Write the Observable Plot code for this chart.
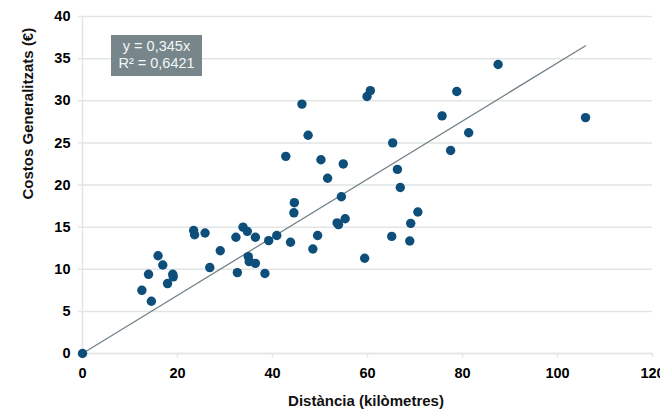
<!DOCTYPE html>
<html>
<head>
<meta charset="utf-8">
<script src="https://cdn.jsdelivr.net/npm/d3@7"></script>
<script src="https://cdn.jsdelivr.net/npm/@observablehq/plot@0.6"></script>
<style>
  html, body { margin: 0; padding: 0; background: #fff; }
  #wrap { position: relative; width: 660px; height: 409px; overflow: hidden; }
  #eq {
    position: absolute; left: 111px; top: 35px; width: 91px; height: 41px;
    background: #76868b; color: #f4f6f6;
    font: 14.5px "Liberation Sans", Arial, sans-serif;
    line-height: 17px; text-align: center; padding-top: 3px; box-sizing: border-box;
  }
</style>
</head>
<body>
<div id="wrap"></div>
<script>
const distancia = [0, 12.5, 13.9, 14.5, 15.9, 16.9, 17.9, 19.0, 19.1, 23.4,
  23.6, 25.8, 26.8, 29.0, 32.3, 32.6, 33.8, 34.7, 34.9, 35.1,
  36.4, 36.4, 38.4, 39.2, 40.9, 42.8, 43.8, 44.5, 44.6, 46.2,
  47.5, 48.5, 49.5, 50.2, 51.6, 53.6, 53.9, 54.5, 54.9, 55.3,
  59.4, 59.9, 60.6, 65.1, 65.3, 66.3, 66.9, 68.9, 69.1, 70.6,
  75.7, 77.5, 78.8, 81.3, 87.5, 105.9];
const costos = [0, 7.5, 9.4, 6.2, 11.6, 10.5, 8.3, 9.4, 9.1, 14.6,
  14.1, 14.3, 10.2, 12.2, 13.8, 9.6, 15.0, 14.5, 11.5, 10.9,
  13.8, 10.7, 9.5, 13.4, 14.0, 23.4, 13.2, 16.7, 17.9, 29.6,
  25.9, 12.4, 14.0, 23.0, 20.8, 15.5, 15.3, 18.6, 22.5, 16.0,
  11.3, 30.5, 31.2, 13.9, 25.0, 21.85, 19.7, 13.35, 15.45, 16.8,
  28.2, 24.1, 31.1, 26.2, 34.3, 28.0];
const slope = 0.345;
const r2 = "0,6421";
const xTicks = [0, 20, 40, 60, 80, 100, 120];
const yTicks = [0, 5, 10, 15, 20, 25, 30, 35, 40];
const xTitle = "Distància (kilòmetres)";
const yTitle = "Costos Generalitzats (€)";

const points = distancia.map((d, i) => ({x: d, y: costos[i]}));
const xmax = d3.max(distancia);
const trend = [{x: 0, y: 0}, {x: xmax, y: slope * xmax}];

const font = '"Liberation Sans", Arial, sans-serif';
const grid = "#e1e5e5";

const chart = Plot.plot({
  width: 660,
  height: 409,
  marginLeft: 82,
  marginRight: 8,
  marginTop: 16,
  marginBottom: 56,
  style: {fontFamily: font, fontSize: "14.5px", fontWeight: "bold", color: "#000", background: "#fff", overflow: "visible"},
  x: {domain: [0, 120], ticks: xTicks},
  y: {domain: [0, 40], ticks: yTicks},
  marks: [
    Plot.gridY(yTicks, {stroke: grid, strokeOpacity: 1, strokeWidth: 1.5}),
    Plot.axisY(yTicks, {tickSize: 4, tickPadding: 8, stroke: grid, strokeWidth: 1.5, label: null, fill: "#000", fontSize: 14.5}),
    Plot.axisX(xTicks, {tickSize: 4, tickPadding: 10, stroke: grid, strokeWidth: 1.5, label: null, fill: "#000", fontSize: 14.5}),
    Plot.ruleX([0], {stroke: grid, strokeWidth: 1.5}),
    Plot.ruleY([0], {stroke: grid, strokeWidth: 1.5}),
    Plot.line(trend, {x: "x", y: "y", stroke: "#738389", strokeWidth: 1.3}),
    Plot.dot(points, {x: "x", y: "y", r: 4.7, fill: "#0d4e7a", stroke: "none"}),
    Plot.text([xTitle], {frameAnchor: "bottom", lineAnchor: "middle", dx: -1.5, dy: 48, fontSize: 15, fontWeight: "bold", fill: "#111"}),
    Plot.text([yTitle], {frameAnchor: "left", lineAnchor: "middle", rotate: -90, dx: -54, dy: 14.5, fontSize: 15, fontWeight: "bold", fill: "#111"})
  ]
});

const wrap = document.getElementById("wrap");
wrap.appendChild(chart);
const eq = document.createElement("div");
eq.id = "eq";
eq.innerHTML = `y = ${String(slope).replace(".", ",")}x<br>R² = ${r2}`;
wrap.appendChild(eq);
</script>
</body>
</html>
